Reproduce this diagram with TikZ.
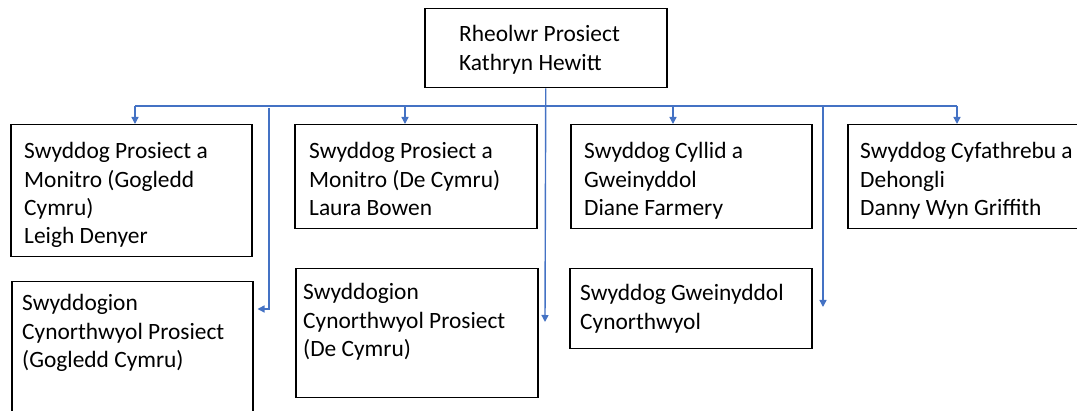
\documentclass[tikz,border=0pt]{standalone}
\usepackage{fontspec}
\setmainfont{Carlito}
\usetikzlibrary{arrows.meta,positioning,calc}
\definecolor{linkblue}{HTML}{4472C4}

\begin{document}
\begin{tikzpicture}[x=1pt,y=-1pt]
  \tikzstyle{post}=[rectangle, draw, line width=1.5pt, anchor=north west, inner sep=0pt]
  \tikzstyle{txt}=[anchor=base west, inner sep=0pt, align=left, font=\fontsize{23.4}{28.3}\selectfont]
  \tikzstyle{link}=[draw=linkblue, line width=1.4pt]
  \tikzstyle{tip}=[-{Triangle[length=7pt,width=7pt]}]

  \useasboundingbox (0,0) rectangle (1077,411);
  \clip (0,0) rectangle (1077,411);

  % Rheolwr (text placed by its last baseline)
  \node[post, minimum width=242pt, minimum height=79pt] (top) at (424,8) {};
  \node[txt] (top-t) at (459,70.3) {Rheolwr Prosiect\\Kathryn Hewitt};

  % Swyddogion - rhes gyntaf
  \node[post, minimum width=241pt, minimum height=132pt] (b1) at (10,124) {};
  \node[txt] (b1-t) at (24,243.9) {Swyddog Prosiect a\\Monitro (Gogledd\\Cymru)\\Leigh Denyer};
  \node[post, minimum width=242pt, minimum height=104pt] (b2) at (294,124) {};
  \node[txt] (b2-t) at (309,215.6) {Swyddog Prosiect a\\Monitro (De Cymru)\\Laura Bowen};
  \node[post, minimum width=241pt, minimum height=104pt] (b3) at (570,124) {};
  \node[txt] (b3-t) at (584,215.6) {Swyddog Cyllid a\\Gweinyddol\\Diane Farmery};
  \node[post, minimum width=260pt, minimum height=104pt] (b4) at (847,124) {};
  \node[txt] (b4-t) at (860,215.6) {Swyddog Cyfathrebu a\\Dehongli\\Danny Wyn Griffith};

  % Swyddogion - ail res
  \node[post, minimum width=241pt, minimum height=150pt] (b5) at (11,281) {};
  \node[txt] (b5-t) at (22,367.6) {Swyddogion\\Cynorthwyol Prosiect\\(Gogledd Cymru)};
  \node[post, minimum width=242pt, minimum height=129pt] (b6) at (295,268) {};
  \node[txt] (b6-t) at (303,356.6) {Swyddogion\\Cynorthwyol Prosiect\\(De Cymru)};
  \node[post, minimum width=242pt, minimum height=80pt] (b7) at (569,268) {};
  \node[txt] (b7-t) at (580,329.3) {Swyddog Gweinyddol\\Cynorthwyol};

  % Cysylltiadau
  \coordinate (d1) at (135,106);
  \coordinate (d2) at (405,106);
  \coordinate (d3) at (673,106);
  \coordinate (d4) at (957,106);
  \coordinate (d5) at (269,108);
  \coordinate (e5) at (269,309);
  \coordinate (d7) at (823,106);
  \coordinate (e7) at (823,307);
  \coordinate (e6) at (545,322);

  \draw[link] (d1) -- (d4);
  \draw[link, tip] (top.south) -- (e6);
  \foreach \i in {1,...,4}
    \draw[link, tip] (d\i) -- (d\i |- b\i.north);
  \draw[link, tip, shorten >=4pt] (d5) -- (e5) -- (e5 -| b5.east);
  \draw[link, tip] (d7) -- (e7);
\end{tikzpicture}
\end{document}
